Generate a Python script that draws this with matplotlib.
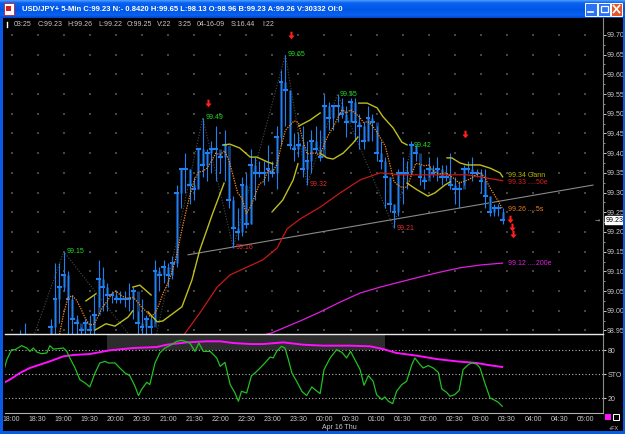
import numpy as np
import matplotlib
matplotlib.use("Agg")
import matplotlib.pyplot as plt
import matplotlib.transforms as mtrans
from matplotlib.patches import Rectangle
from matplotlib.path import Path
from matplotlib.colors import LinearSegmentedColormap

plt.rcParams['font.family'] = ['Liberation Sans', 'DejaVu Sans']

# ---- data (bar 0 = 18:00, 5 minute bars) ----
highs = [98.88, 98.90, 98.95, 98.97, 98.93, 98.92, 98.90, 98.88, 98.90, 98.98,
         99.12, 99.12, 99.15, 99.10, 99.04, 98.99, 98.96, 98.98, 98.99, 99.04,
         99.13, 99.11, 99.07, 99.05, 99.05, 99.05, 99.05, 99.07, 99.06, 99.00,
         99.03, 98.99, 98.99, 99.13, 99.11, 99.13, 99.12, 99.14, 99.32, 99.36,
         99.40, 99.36, 99.34, 99.41, 99.49, 99.41, 99.43, 99.47, 99.40, 99.46,
         99.38, 99.29, 99.26, 99.34, 99.35, 99.41, 99.39, 99.38, 99.38, 99.42,
         99.38, 99.47, 99.61, 99.65, 99.56, 99.45, 99.45, 99.47, 99.43, 99.46,
         99.47, 99.46, 99.55, 99.53, 99.52, 99.55, 99.54, 99.52, 99.54, 99.54,
         99.50, 99.48, 99.52, 99.50, 99.47, 99.43, 99.39, 99.34, 99.27, 99.36,
         99.39, 99.38, 99.43, 99.42, 99.37, 99.36, 99.39, 99.37, 99.39, 99.37,
         99.37, 99.40, 99.34, 99.33, 99.37, 99.38, 99.39, 99.36, 99.36, 99.36,
         99.29, 99.27, 99.27, 99.26]
lows = [98.82, 98.81, 98.85, 98.88, 98.86, 98.84, 98.83, 98.81, 98.81, 98.90,
        98.92, 98.97, 99.05, 98.93, 98.93, 98.93, 98.92, 98.92, 98.91, 98.92,
        99.01, 99.00, 99.00, 99.02, 99.02, 99.02, 99.01, 99.00, 98.98, 98.94,
        98.93, 98.92, 98.87, 98.97, 99.05, 99.07, 99.06, 99.08, 99.11, 99.26,
        99.30, 99.27, 99.28, 99.31, 99.34, 99.33, 99.35, 99.33, 99.35, 99.33,
        99.26, 99.16, 99.18, 99.19, 99.21, 99.22, 99.28, 99.34, 99.32, 99.33,
        99.34, 99.31, 99.42, 99.47, 99.41, 99.38, 99.39, 99.34, 99.32, 99.35,
        99.40, 99.38, 99.41, 99.46, 99.46, 99.48, 99.49, 99.44, 99.48, 99.43,
        99.41, 99.41, 99.43, 99.43, 99.38, 99.36, 99.26, 99.25, 99.21, 99.24,
        99.27, 99.31, 99.35, 99.38, 99.32, 99.31, 99.34, 99.34, 99.33, 99.32,
        99.33, 99.31, 99.27, 99.26, 99.32, 99.35, 99.33, 99.34, 99.30, 99.26,
        99.24, 99.24, 99.24, 99.22]
closes = [98.84, 98.86, 98.92, 98.90, 98.88, 98.86, 98.84, 98.82, 98.83, 98.96,
          99.03, 99.06, 99.09, 99.03, 98.98, 98.97, 98.95, 98.97, 98.95, 98.99,
          99.08, 99.06, 99.04, 99.04, 99.03, 99.03, 99.03, 99.03, 99.05, 98.97,
          98.96, 98.98, 98.96, 99.10, 99.09, 99.11, 99.09, 99.12, 99.30, 99.36,
          99.36, 99.32, 99.31, 99.41, 99.37, 99.40, 99.41, 99.41, 99.39, 99.42,
          99.28, 99.21, 99.20, 99.32, 99.22, 99.37, 99.35, 99.35, 99.35, 99.36,
          99.35, 99.44, 99.58, 99.56, 99.42, 99.41, 99.42, 99.36, 99.38, 99.43,
          99.41, 99.39, 99.52, 99.49, 99.52, 99.52, 99.50, 99.48, 99.53, 99.48,
          99.47, 99.43, 99.49, 99.48, 99.40, 99.38, 99.34, 99.27, 99.25, 99.35,
          99.35, 99.35, 99.42, 99.40, 99.34, 99.33, 99.36, 99.35, 99.36, 99.34,
          99.34, 99.32, 99.31, 99.31, 99.36, 99.36, 99.35, 99.35, 99.33, 99.29,
          99.25, 99.26, 99.26, 99.23]
opens = [98.86, 98.84, 98.86, 98.92, 98.90, 98.88, 98.86, 98.84, 98.82, 98.83,
         98.96, 99.03, 99.06, 99.09, 99.03, 98.98, 98.97, 98.95, 98.97, 98.95,
         98.99, 99.08, 99.06, 99.04, 99.04, 99.03, 99.03, 99.03, 99.03, 99.05,
         98.97, 98.96, 98.98, 98.96, 99.10, 99.09, 99.11, 99.09, 99.12, 99.30,
         99.36, 99.36, 99.32, 99.31, 99.41, 99.37, 99.40, 99.41, 99.41, 99.39,
         99.42, 99.28, 99.21, 99.20, 99.32, 99.22, 99.37, 99.35, 99.35, 99.35,
         99.36, 99.35, 99.44, 99.58, 99.56, 99.42, 99.41, 99.42, 99.36, 99.38,
         99.43, 99.41, 99.39, 99.52, 99.49, 99.52, 99.52, 99.50, 99.48, 99.53,
         99.48, 99.47, 99.43, 99.49, 99.48, 99.40, 99.38, 99.34, 99.27, 99.25,
         99.35, 99.35, 99.35, 99.42, 99.40, 99.34, 99.33, 99.36, 99.35, 99.36,
         99.34, 99.34, 99.32, 99.31, 99.31, 99.36, 99.36, 99.35, 99.35, 99.33,
         99.29, 99.25, 99.26, 99.25]

# overlays read as (bar index, price)
ema50 = [(35, 98.88), (40, 98.944), (43.3, 98.994), (47.3, 99.060), (50.3, 99.091),
         (54.2, 99.111), (57.8, 99.129), (61.1, 99.159), (63.4, 99.208), (66.4, 99.233),
         (71.0, 99.263), (75.6, 99.299), (80.2, 99.332), (84.8, 99.350), (89.4, 99.345),
         (97.0, 99.345), (104.8, 99.345), (107.8, 99.340), (113, 99.330)]
ema200 = [(55, 98.93), (59.9, 98.944), (66.4, 98.974), (71.0, 98.997), (75.6, 99.022),
          (80.2, 99.045), (84.8, 99.060), (89.4, 99.073), (94.0, 99.086), (98.6, 99.098),
          (103.2, 99.109), (107.8, 99.116), (113, 99.121)]
gann_segments = [
    [(17.1, 99.025), (19.4, 99.043)],
    [(19.2, 98.951), (21.7, 98.967), (23.8, 98.961), (26.8, 98.984), (27.9, 99.000)],
    [(27.9, 99.060), (29.5, 99.065), (32.1, 99.040)],
    [(31.4, 98.997), (33.5, 98.972), (34.8, 98.974), (39.2, 99.010), (41.5, 99.078),
     (43.3, 99.154), (46.3, 99.248), (48.9, 99.324)],
    [(48.9, 99.421), (50.2, 99.423), (52.5, 99.413), (54.9, 99.390), (56.5, 99.390),
     (58.8, 99.378), (60.1, 99.373)],
    [(60.1, 99.253), (62.4, 99.281), (64.8, 99.332), (65.9, 99.373)],
    [(66.1, 99.469), (68.7, 99.484), (71.0, 99.502)],
    [(71.0, 99.400), (72.6, 99.388), (74.0, 99.385), (76.3, 99.400), (78.6, 99.426),
     (79.7, 99.441)],
    [(79.9, 99.527), (81.8, 99.527), (84.1, 99.515), (85.5, 99.492), (87.8, 99.464),
     (89.8, 99.428), (91.0, 99.421)],
    [(91.0, 99.324), (93.3, 99.307), (95.8, 99.291), (97.4, 99.299), (99.7, 99.319),
     (100.9, 99.327)],
    [(100.2, 99.388), (101.3, 99.388), (103.2, 99.375), (104.8, 99.370), (107.8, 99.370),
     (110.1, 99.362), (112.4, 99.350), (113.0, 99.340)],
]
zigzag = [(1, 98.81), (12, 99.15), (32, 98.87), (44, 99.49), (51, 99.16), (63, 99.65),
          (68, 99.32), (75, 99.55), (88, 99.21), (92, 99.42)]
trendline = [(40.6, 99.142), (133.8, 99.319)]
sell_signals = [(45.2, 99.527), (64.3, 99.700), (104.3, 99.449),
                (114.8, 99.232), (115.2, 99.213), (115.3, 99.195)]

stoch_k = [(-2.0, 50.2), (-1.1, 68.0), (0.0, 80.4), (0.8, 80.4), (2.3, 85.4), (3.5, 82.5),
           (4.2, 78.3), (5.0, 82.5), (5.8, 77.5), (6.9, 75.4), (8.1, 76.3), (8.8, 85.4),
           (9.6, 81.2), (10.7, 81.7), (11.9, 82.5), (12.7, 78.3), (13.4, 70.1), (14.6, 57.7),
           (15.7, 43.2), (16.9, 39.0), (18.0, 34.1), (19.2, 51.4), (20.3, 63.9), (21.5, 65.9),
           (22.3, 63.9), (23.8, 63.9), (24.9, 57.7), (26.1, 51.4), (27.2, 48.1), (28.4, 34.9),
           (29.2, 23.3), (29.9, 30.8), (31.1, 39.9), (31.8, 37.0), (33.0, 63.9), (34.1, 76.3),
           (35.3, 82.5), (36.4, 85.4), (38.0, 90.8), (39.1, 92.0), (39.9, 90.8), (41.0, 88.7),
           (42.2, 78.3), (43.1, 88.7), (44.1, 78.3), (45.7, 78.3), (47.2, 70.1), (48.0, 59.7),
           (49.1, 64.7), (50.3, 37.0), (51.4, 26.6), (52.2, 16.3), (52.9, 28.7), (54.1, 26.6),
           (55.2, 48.1), (56.0, 51.4), (57.2, 57.7), (58.3, 63.9), (59.5, 71.3), (60.2, 70.1),
           (61.0, 78.3), (62.1, 84.6), (62.9, 82.5), (63.7, 68.0), (64.5, 51.4), (65.6, 41.1),
           (66.8, 28.7), (67.9, 23.3), (69.1, 34.1), (69.8, 30.8), (71.0, 25.8), (71.9, 55.6),
           (73.3, 70.1), (74.8, 80.4), (76.0, 77.1), (77.1, 70.1), (78.0, 78.3), (79.4, 63.9),
           (80.2, 55.6), (81.1, 36.1), (82.1, 48.1), (83.2, 41.1), (84.0, 24.5), (85.2, 18.3),
           (85.9, 21.7), (86.7, 16.3), (87.7, 13.4), (88.6, 28.7), (89.8, 37.0), (90.9, 41.1),
           (92.1, 61.8), (92.8, 70.1), (94.0, 61.8), (94.7, 57.7), (95.9, 60.6), (97.0, 57.7),
           (98.2, 52.3), (99.0, 31.6), (100.1, 27.4), (100.9, 22.5), (102.0, 24.6), (103.0, 29.9),
           (103.9, 55.6), (105.1, 61.8), (105.9, 63.9), (107.0, 62.6), (107.8, 57.7), (108.9, 39.0),
           (110.1, 20.4), (111.2, 17.5), (112.0, 15.0), (112.9, 10.1)]
stoch_d = [(-2.3, 37.8), (-0.4, 43.2), (1.9, 51.4), (4.2, 57.7), (6.5, 61.8), (8.8, 65.9),
           (11.9, 72.1), (14.2, 73.8), (18.0, 75.0), (22.6, 79.6), (28.0, 82.5), (33.4, 83.7),
           (35.7, 86.6), (40.3, 89.5), (44.9, 90.8), (48.0, 90.8), (51.0, 88.7), (54.9, 87.4),
           (57.9, 87.4), (62.5, 89.5), (67.1, 86.6), (71.7, 85.4), (77.9, 85.4), (82.5, 84.6),
           (85.5, 81.2), (88.6, 76.3), (93.2, 73.0), (97.8, 68.8), (102.4, 65.9), (107.0, 63.9),
           (110.1, 61.0), (112.9, 58.9)]
overbought_span = (22, 86)

time_labels = ["18:00", "18:30", "19:00", "19:30", "20:00", "20:30", "21:00", "21:30",
               "22:00", "22:30", "23:00", "23:30", "00:00", "00:30", "01:00", "01:30",
               "02:00", "02:30", "03:00", "03:30", "04:00", "04:30", "05:00"]
title = ("USD/JPY+ 5-Min C:99.23 N:- 0.8420 H:99.65 L:98.13 O:98.96 "
         "B:99.23 A:99.26 V:30332 OI:0")
status = [("03:25", 14), ("C:99.23", 38), ("H:99.26", 67), ("L:99.22", 98),
          ("O:99.25", 127), ("V:22", 157), ("3:25", 178), ("04-16-09", 197),
          ("S:16.44", 231), ("I:22", 262)]

W, H = 625, 434
BLUE = '#0a5ae8'
TXT = '#c8c8c8'
FS = 5.0

# small down arrow used for the sell signals
ARROW = Path([(-0.14, 0.5), (0.14, 0.5), (0.14, 0.0), (0.42, 0.0), (0.0, -0.5),
              (-0.42, 0.0), (-0.14, 0.0), (-0.14, 0.5)],
             [Path.MOVETO] + [Path.LINETO] * 6 + [Path.CLOSEPOLY])


def box(x0, y0, x1, y1):
    return [x0 / W, 1 - y1 / H, (x1 - x0) / W, (y1 - y0) / H]


fig = plt.figure(figsize=(W / 100, H / 100), dpi=100, facecolor='black')
ax = fig.add_axes(box(5, 18, 603, 334), facecolor='black')
st = fig.add_axes(box(5, 334, 603, 413), facecolor='black', sharex=ax)

xmin, xmax = -1.52, 136.1
ax.set_xlim(xmin, xmax)
ax.set_ylim(98.941, 99.743)

# grid dots at every 30 minutes / 0.05
gx, gy = np.meshgrid(np.arange(0, 137, 6), np.arange(98.95, 99.74, 0.05))
ax.scatter(gx.ravel(), gy.ravel(), s=0.8, marker='s', lw=0, color='#454545', zorder=0)

# price bars
x = np.arange(len(closes))
o, c = np.array(opens), np.array(closes)
ax.vlines(x, np.minimum(o, c), np.maximum(o, c), color='#123e78', lw=2.2, zorder=2)
ax.vlines(x, lows, highs, color='#1f80f0', lw=0.8, zorder=3)
ax.hlines(closes, x - 0.55, x + 0.55, color='#1f80f0', lw=1.5, zorder=3)

# overlays
zx, zy = zip(*zigzag)
ax.plot(zx, zy, color='#4a4a4a', lw=0.8, ls=(0, (1, 1.5)), zorder=1)
tx, ty = zip(*trendline)
ax.plot(tx, ty, color='#8a8a8a', lw=0.8, zorder=1)
ex, ey = zip(*ema50)
ax.plot(ex, ey, color='#c81818', lw=0.9, zorder=4)
mx, my = zip(*ema200)
ax.plot(mx, my, color='#e01ee0', lw=0.9, zorder=4)
for seg in gann_segments:
    sx, sy = zip(*seg)
    ax.plot(sx, sy, color='#bebe1e', lw=1.0, zorder=4)
sma5 = np.convolve(closes, np.ones(5) / 5, mode='valid')
ax.plot(x[4:], sma5, color='#ff8a1a', lw=0.9, ls=(0, (1, 1)), zorder=5)

# swing labels
for k in range(1, len(zigzag)):
    i, p = zigzag[k]
    is_high = p > zigzag[k - 1][1]
    if p < 98.95:
        continue
    ax.text(i + 0.55, p, f"{p:.2f}", color='#22dd22' if is_high else '#e03030',
            fontsize=FS, ha='left', va='center', zorder=6)

si, sp = zip(*sell_signals)
ax.scatter(si, sp, marker=ARROW, s=30, color='#ff2020', lw=0, zorder=6)

# end-of-line labels
end_labels = [(f"{gann_segments[-1][-1][1]:.2f} Gann", 99.344, '#b8b800'),
              (f"{ema50[-1][1]:.2f} ....50e", 99.326, '#d82020'),
              (f"{sma5[-1]:.2f} ....5s", 99.256, '#e88018'),
              (f"{ema200[-1][1]:.2f} ....200e", 99.121, '#e020e0')]
for txt, yv, col in end_labels:
    ax.text(114.2, yv, txt, color=col, fontsize=FS, ha='left', va='center', zorder=6)

# price axis
for s in ['left', 'top', 'bottom']:
    ax.spines[s].set_visible(False)
ax.spines['right'].set_color('#8c8c8c')
ax.yaxis.tick_right()
yt = np.arange(98.95, 99.701, 0.05)
ax.set_yticks(yt)
ax.set_yticklabels([f"{v:.2f}" for v in yt])
ax.set_yticks(np.arange(98.975, 99.70, 0.05), minor=True)
ax.tick_params(axis='y', which='major', colors=TXT, labelsize=FS, length=1.8, pad=0.6,
               width=0.7)
ax.tick_params(axis='y', which='minor', colors='#8c8c8c', length=1.5, width=0.7)
ax.tick_params(axis='x', which='both', bottom=False, labelbottom=False)
trans = mtrans.blended_transform_factory(ax.transAxes, ax.transData)
ax.text(1.004, closes[-1], f"{closes[-1]:.2f}", transform=trans, fontsize=FS,
        color='black', ha='left', va='center', zorder=8,
        bbox=dict(boxstyle='square,pad=0.12', fc='white', ec='white'))
ax.text(0.991, closes[-1], '\u2192', transform=trans, fontsize=4.5, color='#a0a0a0',
        ha='center', va='center', family=['DejaVu Sans'])

# stochastic panel
st.set_ylim(1.7, 99.9)
st.add_patch(Rectangle((overbought_span[0], 80), overbought_span[1] - overbought_span[0],
                       30, fc='#2c2c2c', ec='none', zorder=0))
for lvl in (80, 50, 20):
    st.axhline(lvl, color='#b4b4b4', lw=0.8, ls=(0, (1, 2)), zorder=1)
kx, ky = zip(*stoch_k)
st.plot(kx, ky, color='#22c022', lw=0.9, zorder=3)
dx, dy = zip(*stoch_d)
st.plot(dx, dy, color='#ff10ff', lw=1.4, zorder=2)
st.spines['left'].set_visible(False)
st.spines['top'].set_color('#e8e8e8')
st.spines['top'].set_linewidth(1.0)
st.spines['right'].set_color('#8c8c8c')
st.spines['bottom'].set_color('#b0b0b0')
st.yaxis.tick_right()
st.set_yticks([80, 50, 20])
st.set_yticklabels(["80", "STO", "20"])
st.tick_params(axis='y', colors=TXT, labelsize=FS, length=1.8, pad=1.5)
st.set_xticks(np.arange(0, 6 * len(time_labels), 6))
st.set_xticklabels(time_labels)
st.tick_params(axis='x', colors=TXT, labelsize=FS, length=0, pad=2.5)

# window chrome
ov = fig.add_axes([0, 0, 1, 1], zorder=10)
ov.set_axis_off()
cmap = LinearSegmentedColormap.from_list(
    'xp', [(0, '#4a9cff'), (0.15, '#0a62f2'), (0.55, '#0055e4'), (0.85, '#0a62f0'), (1, '#0046cc')])
ov.imshow(np.linspace(0, 1, 40)[:, None], cmap=cmap, aspect='auto', extent=[0, W, 18, 0])
ov.add_patch(Rectangle((0, 18), 2.5, H - 18, fc=BLUE, ec='none'))
ov.add_patch(Rectangle((622.5, 18), 2.5, H - 18, fc=BLUE, ec='none'))
ov.add_patch(Rectangle((0, 431), W, 3, fc=BLUE, ec='none'))
# icon
ov.add_patch(Rectangle((4, 3), 10, 12, fc='white', ec='#c02020', lw=0.6))
ov.add_patch(Rectangle((6, 6), 5, 5, fc='#d02020', ec='none'))
ov.text(22, 9.5, title, color='white', fontsize=5.5, fontweight='bold', va='center',
        ha='left')
# buttons
ov.add_patch(Rectangle((585, 2.5), 12, 13, fc='#2b72f5', ec='white', lw=0.7))
ov.plot([588, 593], [12, 12], color='white', lw=1.2)
ov.add_patch(Rectangle((598, 2.5), 12, 13, fc='#2b72f5', ec='white', lw=0.7))
ov.add_patch(Rectangle((601, 5.5), 6.5, 6.5, fc='none', ec='white', lw=0.9))
ov.add_patch(Rectangle((611, 2.5), 11, 13, fc='#e2562c', ec='white', lw=0.7))
ov.plot([613.5, 619.5], [5.5, 12.5], color='white', lw=1.2)
ov.plot([613.5, 619.5], [12.5, 5.5], color='white', lw=1.2)
# status line
ov.plot([7, 7], [22, 27], color='white', lw=1.0)
for txt, px in status:
    ov.text(px, 24.5, txt, color=TXT, fontsize=FS, va='center', ha='left')
ov.text(322, 427.5, "Apr 16 Thu", color=TXT, fontsize=FS, va='center', ha='left')
ov.add_patch(Rectangle((605, 414), 6, 6, fc='#ff10ff', ec='none'))
ov.add_patch(Rectangle((613, 414), 6, 6, fc='none', ec='white', lw=0.7))
ov.text(614, 428, "+FX", color=TXT, fontsize=4, va='center', ha='center')
ov.set_xlim(0, W)
ov.set_ylim(H, 0)

fig.savefig("out.png", dpi=100, facecolor='black')
